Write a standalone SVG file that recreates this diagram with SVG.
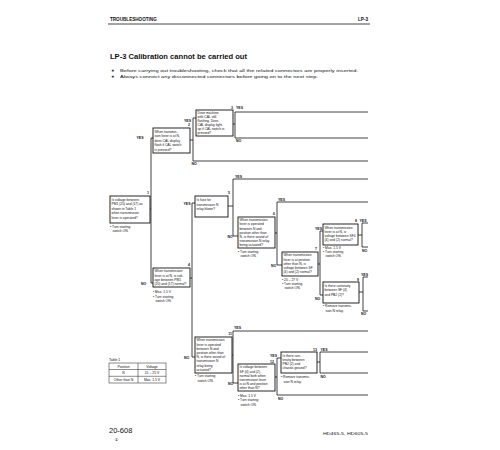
<svg xmlns="http://www.w3.org/2000/svg" width="500" height="450" viewBox="0 0 500 450">
<style>
text{font-family:"Liberation Sans",Arial,sans-serif;fill:#111}
.b{fill:#fff;stroke:#111;stroke-width:0.9}
.t{font-size:3.3px}
.n{font-size:3.3px}
.l{font-size:3.5px;font-weight:bold}
.conn path{stroke:#111;stroke-width:0.8;fill:none}
.tb{fill:none;stroke:#1a1a1a;stroke-width:0.5}
</style>
<rect width="500" height="450" fill="#fff"/>
<g id="header">
<text x="110" y="21" style="font-size:4.6px;font-weight:bold">TROUBLESHOOTING</text>
<text x="368" y="21" text-anchor="end" style="font-size:4.6px;font-weight:bold">LP-3</text>
<path d="M108,24H370" stroke="#1a1a1a" stroke-width="0.8"/>
<text x="110" y="59" style="font-size:7px;font-weight:bold" textLength="137" lengthAdjust="spacingAndGlyphs">LP-3  Calibration cannot be carried out</text>
<text x="111" y="71.5" style="font-size:4.4px">★</text>
<text x="120" y="71.5" style="font-size:4.4px" textLength="238" lengthAdjust="spacingAndGlyphs">Before carrying out troubleshooting, check that all the related connectors are properly inserted.</text>
<text x="111" y="78" style="font-size:4.4px">★</text>
<text x="120" y="78" style="font-size:4.4px" textLength="198" lengthAdjust="spacingAndGlyphs">Always connect any disconnected connectors before going on to the next step.</text>
</g>
<g class="conn" id="connectors">
<path d="M151,138V283M150,209H151M151,138H153M151,283H153"/>
<path d="M190,140H193M193,118V161M193,118H196M193,161H368"/>
<path d="M233,124H235M235,112V138M235,112H368M235,138H368"/>
<path d="M190,278H192M192,203V357M192,203H195M192,357H195"/>
<path d="M228,206H233M233,179V236M233,179H368M233,236H238"/>
<path d="M275,233H277M277,202V265M277,202H368M277,265H282"/>
<path d="M318,264H320M320,231V295M320,231H323M320,295H323"/>
<path d="M358,235H362M362,223V247M362,223H368M362,247H368"/>
<path d="M359,292H363M363,277V311M363,277H368M363,311H368"/>
<path d="M232,355H233M233,331V383M233,331H368M233,383H238"/>
<path d="M275,377H277M277,358V395M277,358H281M277,395H368"/>
<path d="M317,362H320M320,352V373M320,352H368M320,373H368"/>
</g>
<g id="labels">
<text class="l" x="136.5" y="139">YES</text>
<text class="l" x="184" y="121.5">YES</text>
<text class="l" x="191.5" y="165">NO</text>
<text class="l" x="236" y="108.5">YES</text>
<text class="l" x="236" y="142">NO</text>
<text class="l" x="183.5" y="204.5">YES</text>
<text class="l" x="141" y="284.5">NO</text>
<text class="l" x="235" y="177.5">YES</text>
<text class="l" x="227.5" y="238">NO</text>
<text class="l" x="278" y="200.5">YES</text>
<text class="l" x="271" y="266.5">NO</text>
<text class="l" x="315" y="229.5">YES</text>
<text class="l" x="315" y="299.5">NO</text>
<text class="l" x="359.5" y="221.5">YES</text>
<text class="l" x="362" y="251.5">NO</text>
<text class="l" x="361" y="275.5">YES</text>
<text class="l" x="361" y="315">NO</text>
<text class="l" x="234" y="329">YES</text>
<text class="l" x="184" y="359">NO</text>
<text class="l" x="228" y="384.5">NO</text>
<text class="l" x="277" y="357" text-anchor="end">YES</text>
<text class="l" x="278" y="399.5">NO</text>
<text class="l" x="320.5" y="350.5">YES</text>
<text class="l" x="320.5" y="377.5">NO</text>
</g>
<g id="node1">
<rect class="b" x="110" y="196" width="40" height="27"/>
<text class="l" x="149" y="194" text-anchor="end">1</text>
<text class="t" x="111.5" y="200.5">Is voltage between</text>
<text class="t" x="111.5" y="205">PM1 (20) and (17) as</text>
<text class="t" x="111.5" y="209.5">shown in Table 1</text>
<text class="t" x="111.5" y="214">when transmission</text>
<text class="t" x="111.5" y="218.5">lever is operated?</text>
<text class="n" x="110" y="227.5">• Turn starting</text>
<text class="n" x="112.5" y="231.5">switch ON.</text>
</g>
<g id="node2">
<rect class="b" x="153" y="128" width="37" height="25"/>
<text class="l" x="190" y="125.5" text-anchor="end">2</text>
<text class="t" x="154.5" y="132.5">When transmis-</text>
<text class="t" x="154.5" y="137">sion lever is at N,</text>
<text class="t" x="154.5" y="141.5">does CAL display</text>
<text class="t" x="154.5" y="146">flash if CAL switch</text>
<text class="t" x="154.5" y="150.5">is pressed?</text>
</g>
<g id="node3">
<rect class="b" x="196" y="110" width="37" height="26"/>
<text class="l" x="233" y="108.5" text-anchor="end">3</text>
<text class="t" x="197.5" y="114.3">Drive machine</text>
<text class="t" x="197.5" y="118.3">with CAL still</text>
<text class="t" x="197.5" y="122.3">flashing. Does</text>
<text class="t" x="197.5" y="126.3">CAL display light</text>
<text class="t" x="197.5" y="130.3">up if CAL switch is</text>
<text class="t" x="197.5" y="134.3">pressed?</text>
</g>
<g id="node4">
<rect class="b" x="153" y="268" width="37" height="19"/>
<text class="l" x="190" y="266" text-anchor="end">4</text>
<text class="t" x="154.5" y="272.3">When transmission</text>
<text class="t" x="154.5" y="276.5">lever is at N, is volt-</text>
<text class="t" x="154.5" y="280.7">age between PM1</text>
<text class="t" x="154.5" y="284.9">(20) and (17) normal?</text>
<text class="n" x="153" y="293">• Max. 1.5 V</text>
<text class="n" x="153" y="297.5">• Turn starting</text>
<text class="n" x="155.5" y="302">switch ON.</text>
</g>
<g id="node5">
<rect class="b" x="195" y="196" width="33" height="21"/>
<text class="l" x="230" y="194" text-anchor="end">5</text>
<text class="t" x="196.5" y="201">Is fuse for</text>
<text class="t" x="196.5" y="205.5">transmission N</text>
<text class="t" x="196.5" y="210">relay blown?</text>
</g>
<g id="node6">
<rect class="b" x="238" y="217" width="37" height="31"/>
<text class="l" x="275" y="215" text-anchor="end">6</text>
<text class="t" x="239.5" y="221.2">When transmission</text>
<text class="t" x="239.5" y="225.4">lever is operated</text>
<text class="t" x="239.5" y="229.6">between N and</text>
<text class="t" x="239.5" y="233.8">position other than</text>
<text class="t" x="239.5" y="238">N, is there sound of</text>
<text class="t" x="239.5" y="242.2">transmission N relay</text>
<text class="t" x="239.5" y="246.4">being actuated?</text>
<text class="n" x="238" y="253">• Turn starting</text>
<text class="n" x="240.5" y="257">switch ON.</text>
</g>
<g id="node7">
<rect class="b" x="282" y="252" width="36" height="24"/>
<text class="l" x="317" y="249.5" text-anchor="end">7</text>
<text class="t" x="283.5" y="256.3">When transmission</text>
<text class="t" x="283.5" y="260.5">lever is at position</text>
<text class="t" x="283.5" y="264.7">other than N, is</text>
<text class="t" x="283.5" y="268.9">voltage between SF</text>
<text class="t" x="283.5" y="273.1">(4) and (2) normal?</text>
<text class="n" x="282" y="281">• 20 – 27 V</text>
<text class="n" x="282" y="285">• Turn starting</text>
<text class="n" x="284.5" y="289">switch ON.</text>
</g>
<g id="node8">
<rect class="b" x="323" y="224" width="35" height="21"/>
<text class="l" x="357" y="221.5" text-anchor="end">8</text>
<text class="t" x="324.5" y="228.5">When transmission</text>
<text class="t" x="324.5" y="232.7">lever is at N, is</text>
<text class="t" x="324.5" y="236.9">voltage between SF4</text>
<text class="t" x="324.5" y="241.1">(4) and (2) normal?</text>
<text class="n" x="323" y="249">• Max. 1.5 V</text>
<text class="n" x="323" y="253">• Turn starting</text>
<text class="n" x="325.5" y="257">switch ON.</text>
</g>
<g id="node9">
<rect class="b" x="323" y="282" width="36" height="21"/>
<text class="l" x="359" y="280.5" text-anchor="end">9</text>
<text class="t" x="324.5" y="287">Is there continuity</text>
<text class="t" x="324.5" y="291.3">between SF (4)</text>
<text class="t" x="324.5" y="295.6">and PB2 (2)?</text>
<text class="n" x="323" y="307">• Remove transmis-</text>
<text class="n" x="325.5" y="311.5">sion N relay.</text>
</g>
<g id="node11">
<rect class="b" x="195" y="337" width="37" height="36"/>
<text class="l" x="232" y="334.5" text-anchor="end">11</text>
<text class="t" x="196.5" y="341.3">When transmission</text>
<text class="t" x="196.5" y="345.5">lever is operated</text>
<text class="t" x="196.5" y="349.7">between N and</text>
<text class="t" x="196.5" y="353.9">position other than</text>
<text class="t" x="196.5" y="358.1">N, is there sound of</text>
<text class="t" x="196.5" y="362.3">transmission N</text>
<text class="t" x="196.5" y="366.5">relay being</text>
<text class="t" x="196.5" y="370.7">actuated?</text>
<text class="n" x="195" y="377">• Turn starting</text>
<text class="n" x="197.5" y="381.5">switch ON.</text>
</g>
<g id="node12">
<rect class="b" x="238" y="364" width="37" height="27"/>
<text class="l" x="274" y="362.8" text-anchor="end">12</text>
<text class="t" x="239.5" y="368.3">Is voltage between</text>
<text class="t" x="239.5" y="372.5">SF (4) and (2)</text>
<text class="t" x="239.5" y="376.7">normal both when</text>
<text class="t" x="239.5" y="380.9">transmission lever</text>
<text class="t" x="239.5" y="385.1">is at N and position</text>
<text class="t" x="239.5" y="389.3">other than N?</text>
<text class="n" x="238" y="396.5">• Max. 1.5 V</text>
<text class="n" x="238" y="401">• Turn starting</text>
<text class="n" x="240.5" y="405.5">switch ON.</text>
</g>
<g id="node13">
<rect class="b" x="281" y="352" width="36" height="21"/>
<text class="l" x="317" y="350.5" text-anchor="end">13</text>
<text class="t" x="282.5" y="356.5">Is there con-</text>
<text class="t" x="282.5" y="360.8">tinuity between</text>
<text class="t" x="282.5" y="365.1">PB2 (2) and</text>
<text class="t" x="282.5" y="369.4">chassis ground?</text>
<text class="n" x="281" y="378">• Remove transmis-</text>
<text class="n" x="283.5" y="382.5">sion N relay.</text>
</g>
<g id="table1">
<text x="109" y="360.5" style="font-size:3.5px">Table 1</text>
<rect class="tb" x="109" y="363" width="57" height="20"/>
<path class="tb" d="M138,363V383M109,369.5H166M109,376.3H166"/>
<text x="123.5" y="367.6" text-anchor="middle" style="font-size:3.4px">Position</text>
<text x="152" y="367.6" text-anchor="middle" style="font-size:3.4px">Voltage</text>
<text x="123.5" y="374.2" text-anchor="middle" style="font-size:3.4px">N</text>
<text x="152" y="374.2" text-anchor="middle" style="font-size:3.4px">15 – 25 V</text>
<text x="123.5" y="381" text-anchor="middle" style="font-size:3.4px">Other than N</text>
<text x="152" y="381" text-anchor="middle" style="font-size:3.4px">Max. 1.5 V</text>
</g>
<g id="footer">
<text x="109" y="433" style="font-size:7.5px">20-608</text>
<text x="114.5" y="440.5" style="font-size:4.5px;font-family:'DejaVu Sans',sans-serif">①</text>
<text x="323" y="435" style="font-size:4.2px" textLength="45" lengthAdjust="spacingAndGlyphs">HD465-5, HD605-5</text>
</g>
</svg>
